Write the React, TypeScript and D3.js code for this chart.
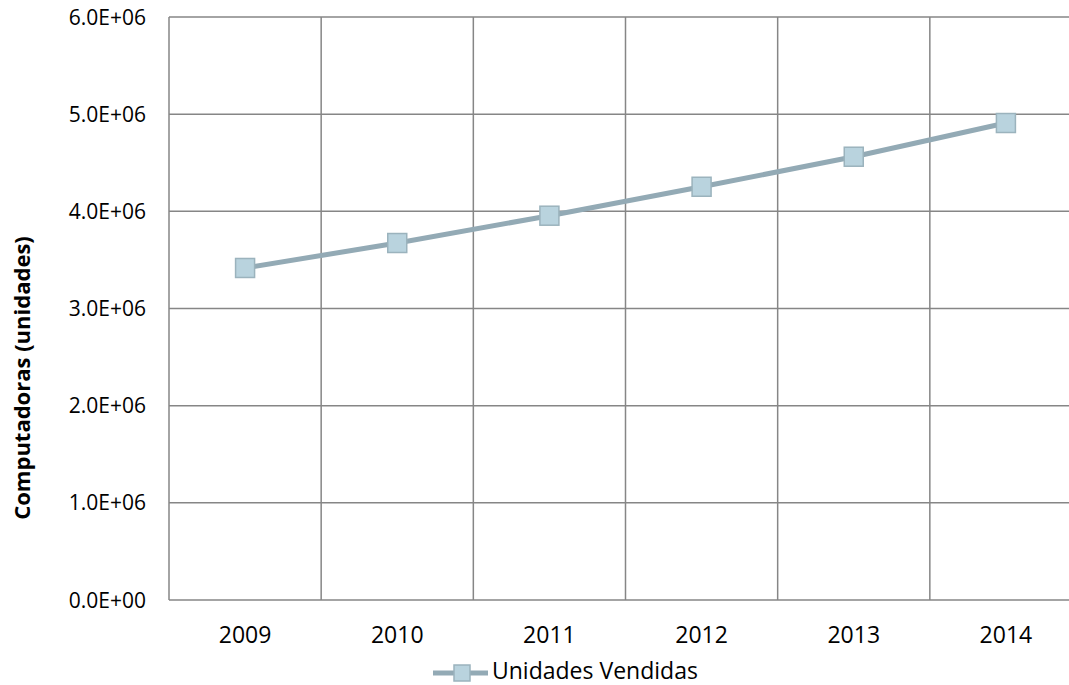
import * as d3 from "d3";

const years = ["2009", "2010", "2011", "2012", "2013", "2014"];
const unidades = [3.417e6, 3.674e6, 3.955e6, 4.253e6, 4.562e6, 4.909e6];
const yTicks = [0, 1e6, 2e6, 3e6, 4e6, 5e6, 6e6];
const seriesName = "Unidades Vendidas";
const yTitle = "Computadoras (unidades)";

const W = 1069;
const H = 685;
const margin = { top: 17, left: 169, bottom: 600 };
const plotRight = 1082;

const gridColor = "#868686";
const lineColor = "#93aab5";
const markerFill = "#b9d3de";
const markerStroke = "#9bb3bd";
const font = "'Open Sans', Lato, sans-serif";

export default function App() {
  const x = d3.scaleBand<string>().domain(years).range([margin.left, plotRight]);
  const y = d3.scaleLinear().domain([0, 6e6]).range([margin.bottom, margin.top]);
  const fmt = (v: number) => {
    const s = v.toExponential(1).toUpperCase();
    return s.replace(/E([+-])(\d)$/, "E$10$2");
  };
  const cx = (i: number) => (x(years[i]) as number) + x.bandwidth() / 2;
  const line = d3
    .line<number>()
    .x((_, i) => cx(i))
    .y((d) => y(d));
  const ms = 19;

  return (
    <svg
      width={W}
      height={H}
      style={{ position: "absolute", left: 0, top: 0, background: "#fff" }}
      fontFamily={font}
    >
      {/* horizontal grid */}
      {yTicks.map((t) => (
        <line key={"h" + t} x1={margin.left} x2={plotRight} y1={y(t)} y2={y(t)} stroke={gridColor} strokeWidth={1.5} />
      ))}
      {/* vertical grid */}
      {years.map((yr) => (
        <line
          key={"v" + yr}
          x1={x(yr) as number}
          x2={x(yr) as number}
          y1={margin.top}
          y2={margin.bottom}
          stroke={gridColor}
          strokeWidth={1.5}
        />
      ))}
      {/* y tick labels */}
      {yTicks.map((t) => (
        <text key={"yl" + t} x={146} y={y(t)} dy="0.36em" textAnchor="end" fontSize={21} fill="#000">
          {fmt(t)}
        </text>
      ))}
      {/* x labels */}
      {years.map((yr, i) => (
        <text key={"xl" + yr} x={cx(i)} y={643} textAnchor="middle" fontSize={23} fill="#000">
          {yr}
        </text>
      ))}
      {/* y title */}
      <text
        transform={`translate(30,${378}) rotate(-90)`}
        textAnchor="middle"
        fontSize={22}
        fontWeight="bold"
        fill="#000"
      >
        {yTitle}
      </text>
      {/* series */}
      <path d={line(unidades) ?? ""} fill="none" stroke={lineColor} strokeWidth={5} />
      {unidades.map((v, i) => (
        <rect
          key={"m" + i}
          x={cx(i) - ms / 2}
          y={y(v) - ms / 2}
          width={ms}
          height={ms}
          fill={markerFill}
          stroke={markerStroke}
          strokeWidth={1.5}
        />
      ))}
      {/* legend */}
      <line x1={433} x2={488} y1={673} y2={673} stroke={lineColor} strokeWidth={5} />
      <rect x={462 - 8} y={673 - 8} width={16} height={16} fill={markerFill} stroke={markerStroke} strokeWidth={1.5} />
      <text x={492} y={679} fontSize={23} fill="#000">
        {seriesName}
      </text>
    </svg>
  );
}
